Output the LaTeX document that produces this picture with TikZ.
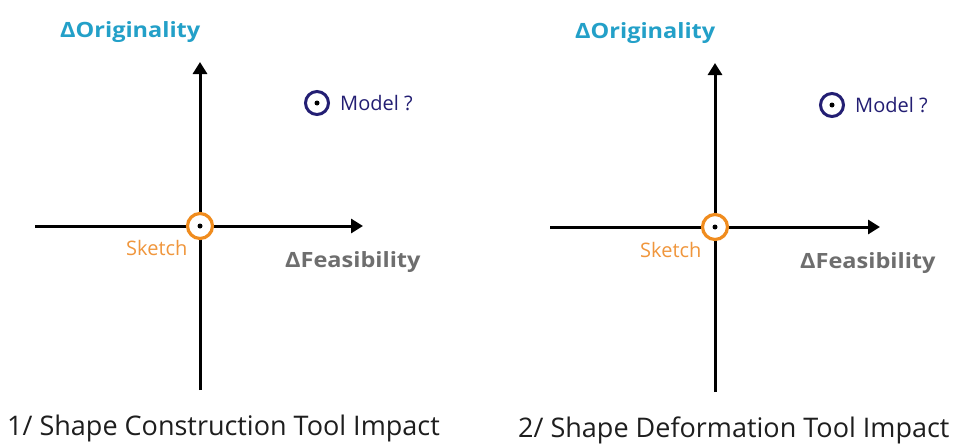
\documentclass[tikz,border=0pt]{standalone}
\usepackage{fontspec}
\setmainfont{Open Sans}
\usetikzlibrary{arrows.meta}
\definecolor{origc}{RGB}{35,160,200}
\definecolor{feasc}{RGB}{110,110,110}
\definecolor{sketchc}{RGB}{240,150,60}
\definecolor{ringc}{RGB}{240,140,30}
\definecolor{modelc}{RGB}{35,30,115}
\definecolor{captc}{RGB}{30,30,30}
\newcommand{\widebold}[1]{\scalebox{1.12}[1]{#1}}
\tikzset{
  axis/.style={line width=3pt, -{Triangle[length=12pt,width=14pt]}},
  sketchring/.style={circle, draw=ringc, line width=3.2pt, fill=white, minimum size=25pt, inner sep=0pt},
  modelring/.style={circle, draw=modelc, line width=3pt, fill=white, minimum size=23pt, inner sep=0pt},
  dotc/.style={circle, fill=black, minimum size=5pt, inner sep=0pt},
  origlab/.style={font=\fontsize{21}{23}\selectfont\bfseries, text=origc, inner sep=0pt, anchor=west},
  feaslab/.style={font=\fontsize{21}{23}\selectfont\bfseries, text=feasc, inner sep=0pt, anchor=west},
  sketchlab/.style={font=\fontsize{20}{22}\selectfont, text=sketchc, inner sep=0pt, anchor=west},
  modellab/.style={font=\fontsize{20}{22}\selectfont, text=modelc, inner sep=0pt, anchor=west},
  captlab/.style={font=\fontsize{27}{30}\selectfont, text=captc, inner sep=0pt, anchor=west}
}
\begin{document}
\begin{tikzpicture}[x=1pt,y=-1pt]
\useasboundingbox[fill=white] (0,0) rectangle (953,447);
% ---------- panel 1 ----------
\coordinate (l1) at (35,226);
\coordinate (r1) at (363,226);
\coordinate (t1) at (200,62);
\coordinate (b1) at (200,390);
\draw[axis] (l1) -- (r1);
\draw[axis] (b1) -- (t1);
\node[sketchring] (s1) at (200,226) {};
\node[dotc] (sd1) at (s1.center) {};
\node[modelring] (m1) at (317,103) {};
\node[dotc] (md1) at (m1.center) {};
\node[origlab] (o1) at (60,32) {\widebold{ΔOriginality}};
\node[feaslab] (f1) at (285,262) {\widebold{ΔFeasibility}};
\node[sketchlab] (sk1) at (126,248) {Sketch};
\node[modellab] (ml1) at (340,103) {Model ?};
\node[captlab] (c1) at (7,428) {1/ Shape Construction Tool Impact};
% ---------- panel 2 ----------
\coordinate (l2) at (550,227);
\coordinate (r2) at (880,227);
\coordinate (t2) at (715,63);
\coordinate (b2) at (715,392);
\draw[axis] (l2) -- (r2);
\draw[axis] (b2) -- (t2);
\node[sketchring] (s2) at (715,227) {};
\node[dotc] (sd2) at (s2.center) {};
\node[modelring] (m2) at (832,105) {};
\node[dotc] (md2) at (m2.center) {};
\node[origlab] (o2) at (575,33) {\widebold{ΔOriginality}};
\node[feaslab] (f2) at (800,263) {\widebold{ΔFeasibility}};
\node[sketchlab] (sk2) at (640,250) {Sketch};
\node[modellab] (ml2) at (855,105) {Model ?};
\node[captlab] (c2) at (518,430) {2/ Shape Deformation Tool Impact};
\end{tikzpicture}
\end{document}
